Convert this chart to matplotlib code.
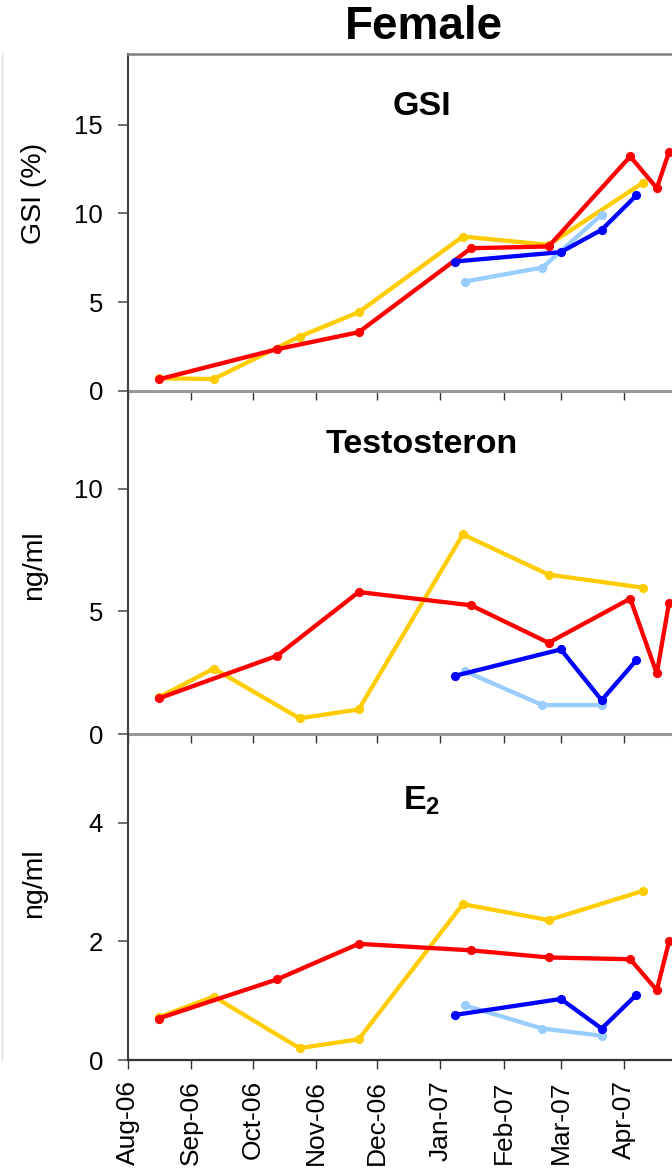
import matplotlib
matplotlib.use("Agg")
import matplotlib.pyplot as plt
import matplotlib.dates as mdates
from matplotlib.lines import Line2D
import pandas as pd

# ======================================================
# DATA
# ======================================================
red_dates = ["2006-08-16", "2006-10-13", "2006-11-22", "2007-01-16",
             "2007-02-23", "2007-04-04", "2007-04-17", "2007-04-23"]
red_gsi = [0.64, 2.34, 3.30, 8.04, 8.14, 13.22, 11.43, 13.47]
red_t = [1.45, 3.19, 5.79, 5.25, 3.72, 5.52, 2.47, 5.35]
red_e2 = [0.70, 1.36, 1.96, 1.85, 1.73, 1.70, 1.18, 2.00]

yellow_dates = ["2006-08-16", "2006-09-12", "2006-10-24", "2006-11-22",
                "2007-01-12", "2007-02-23", "2007-04-10"]
yellow_gsi = [0.70, 0.66, 3.05, 4.43, 8.70, 8.23, 11.72]
yellow_t = [1.49, 2.67, 0.64, 1.00, 8.14, 6.50, 5.97]
yellow_e2 = [0.72, 1.07, 0.20, 0.35, 2.63, 2.36, 2.85]

blue_dates = ["2007-01-08", "2007-03-01", "2007-03-21", "2007-04-07"]
blue_gsi = [7.29, 7.82, 9.08, 11.02]
blue_t = [2.37, 3.45, 1.38, 3.01]
blue_e2 = [0.76, 1.03, 0.53, 1.10]

lblue_dates = ["2007-01-13", "2007-02-20", "2007-03-21"]
lblue_gsi = [6.16, 6.95, 9.93]
lblue_t = [2.56, 1.18, 1.18]
lblue_e2 = [0.92, 0.53, 0.41]

# month ticks that fit inside the picture (the chart is cut at the right)
month_ticks = pd.date_range("2006-08-01", "2007-04-01", freq="MS")
x_start = pd.Timestamp("2006-08-01")
x_end = pd.Timestamp("2007-05-16")

# ======================================================
# STYLE
# ======================================================
plt.rcParams["font.family"] = ["Liberation Sans", "DejaVu Sans"]
plt.rcParams["mathtext.fontset"] = "custom"
plt.rcParams["mathtext.rm"] = "Liberation Sans"
plt.rcParams["mathtext.bf"] = "Liberation Sans:bold"

RED = "#FF0000"
YELLOW = "#FFCC00"
BLUE = "#0000FF"
LBLUE = "#99CCFF"

W, H = 672, 1171
fig = plt.figure(figsize=(W / 100, H / 100), dpi=100)

left = 128 / W
width = (716 - 128) / W
panels = [
    # (top px, bottom px, ylim, yticks, title)
    (54, 390.7, 19.0, [0, 5, 10, 15], "GSI"),
    (390.7, 734, 14.0, [0, 5, 10], "Testosteron"),
    (734, 1060, 5.5, [0, 2, 4], r"$\mathbf{E_2}$"),
]
series = [
    (yellow_dates, [yellow_gsi, yellow_t, yellow_e2], YELLOW, 2),
    (red_dates, [red_gsi, red_t, red_e2], RED, 3),
    (lblue_dates, [lblue_gsi, lblue_t, lblue_e2], LBLUE, 4),
    (blue_dates, [blue_gsi, blue_t, blue_e2], BLUE, 5),
]

axes = []
for i, (top, bot, ymax, yt, title) in enumerate(panels):
    ax = fig.add_axes([left, 1 - bot / H, width, (bot - top) / H])
    axes.append(ax)
    for dates, vals, col, z in series:
        ax.plot(pd.to_datetime(dates), vals[i], color=col, lw=3.1,
                marker="o", ms=5.6, zorder=z, clip_on=False)
    ax.set_xticks(month_ticks)
    ax.xaxis.set_major_formatter(mdates.DateFormatter("%b-%y"))
    ax.set_xlim(x_start, x_end)
    ax.set_yticks(yt)
    ax.set_ylim(0, ymax)
    ax.tick_params(axis="y", direction="out", length=7, width=1.2,
                   color="#555555", labelsize=18.5, pad=11)
    ax.tick_params(axis="x", direction="out", length=6.5, width=1,
                   color="#333333", labelsize=19, pad=8,
                   labelrotation=90)
    ax.spines["right"].set_visible(False)
    ax.spines["left"].set_color("#404040")
    ax.spines["left"].set_linewidth(1.5)
    if i == 0:
        ax.spines["top"].set_color("#808080")
        ax.spines["top"].set_linewidth(1.8)
    else:
        ax.spines["top"].set_visible(False)
    if i < 2:
        ax.spines["bottom"].set_color("#999999")
        ax.spines["bottom"].set_linewidth(2.2)
        ax.tick_params(axis="x", labelbottom=False)
    else:
        ax.spines["bottom"].set_color("#333333")
        ax.spines["bottom"].set_linewidth(1.6)
    ax.text(0.5, 0.818 if i < 2 else 0.767, title, transform=ax.transAxes,
            ha="center", va="baseline", fontsize=24.5, fontweight="bold")
    ax.patch.set_alpha(0)

# y labels (baseline at x ~ 41 px) and figure title
for label, yc in [("GSI (%)", 193), ("ng/ml", 565), ("ng/ml", 883)]:
    fig.text(41 / W, 1 - yc / H, label, rotation=90, rotation_mode="anchor",
             ha="center", va="baseline", fontsize=20.5)
fig.text(424 / W, 1 - 27 / H, "Female", ha="center", va="center",
         fontsize=33, fontweight="bold")

# faint frame line on the far left
fig.add_artist(Line2D([1.5 / W, 1.5 / W], [1 - 53 / H, 1 - 1060 / H],
                      color="#e0e0e0", lw=1))

fig.savefig("out.png", dpi=100)
